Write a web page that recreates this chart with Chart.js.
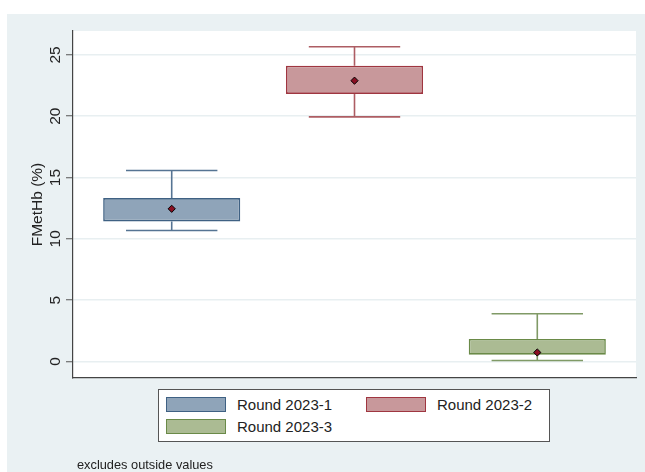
<!DOCTYPE html>
<html>
<head>
<meta charset="utf-8">
<script src="https://cdn.jsdelivr.net/npm/chart.js@4.4.1/dist/chart.umd.min.js"></script>
<style>
  html, body { margin: 0; padding: 0; background: #fff; }
  #wrap { position: relative; width: 645px; height: 472px; font-family: 'Liberation Sans', Arial, sans-serif; }
  #chart { position: absolute; left: 0; top: 0; }
  .legend { position: absolute; left: 158px; top: 389px; width: 390px; height: 51px; border: 1px solid #555; background: #fff; }
  .item { position: absolute; height: 18px; }
  .sw { position: absolute; left: 0; top: 0; width: 58px; height: 13px; border: 1.5px solid; }
  .lab { position: absolute; left: 71px; top: -1px; font-size: 15px; color: #222; white-space: nowrap; line-height: 18px; }
  .note { position: absolute; left: 77px; top: 457px; font-size: 12.8px; color: #222; line-height: 16px; }
</style>
</head>
<body>
<div id="wrap">
  <canvas id="chart" width="645" height="472"></canvas>
  <div class="legend" id="legend"></div>
  <div class="note">excludes outside values</div>
</div>
<script>
// data
const categories = ['Round 2023-1', 'Round 2023-2', 'Round 2023-3'];
const lowerWhisker = [10.68, 19.95, 0.08];
const q1 = [11.42, 21.82, 0.55];
const median = [12.45, 22.9, 0.73];
const q3 = [13.32, 24.12, 1.83];
const upperWhisker = [15.57, 25.67, 3.89];
const yTicks = [0, 5, 10, 15, 20, 25];
const xPos = [1, 2, 3];

// styling
const fills = ['#8fa4b9', '#c8989b', '#abbb93'];
const borders = ['#3f6183', '#9f3640', '#6a8a48'];
const whiskerColors = ['#557493', '#ad5d63', '#809a66'];
const capHalf = 0.25;

// outer panel + white plot region
const background = {
  id: 'background',
  beforeDraw(chart) {
    const { ctx, chartArea: a } = chart;
    ctx.save();
    ctx.fillStyle = '#eaf1f3';
    ctx.fillRect(7, 14, 645 - 7, 472 - 14);
    ctx.fillStyle = '#ffffff';
    ctx.fillRect(a.left, a.top, a.right - a.left, a.bottom - a.top);
    ctx.restore();
  }
};

// whiskers and caps, drawn through the scales
const whiskers = {
  id: 'whiskers',
  beforeDatasetsDraw(chart) {
    const { ctx, scales: { x, y } } = chart;
    categories.forEach((c, i) => {
      const xc = x.getPixelForValue(xPos[i]);
      const xl = x.getPixelForValue(xPos[i] - capHalf);
      const xr = x.getPixelForValue(xPos[i] + capHalf);
      const yHi = y.getPixelForValue(upperWhisker[i]);
      const yLo = y.getPixelForValue(lowerWhisker[i]);
      ctx.save();
      ctx.strokeStyle = whiskerColors[i];
      ctx.lineWidth = 1.6;
      ctx.beginPath();
      ctx.moveTo(xc, y.getPixelForValue(q3[i]));
      ctx.lineTo(xc, yHi);
      ctx.moveTo(xc, y.getPixelForValue(q1[i]));
      ctx.lineTo(xc, yLo);
      ctx.moveTo(xl, yHi);
      ctx.lineTo(xr, yHi);
      ctx.moveTo(xl, yLo);
      ctx.lineTo(xr, yLo);
      ctx.stroke();
      ctx.restore();
    });
  }
};

const datasets = categories.map((c, i) => ({
  type: 'bar',
  label: c,
  data: [{ x: xPos[i], y: [q1[i], q3[i]] }],
  backgroundColor: fills[i],
  borderColor: borders[i],
  borderWidth: 1.6,
  borderSkipped: false,
  grouped: false,
  barPercentage: 0.75,
  categoryPercentage: 1,
  order: 1
}));

datasets.push({
  type: 'scatter',
  label: 'median',
  data: median.map((m, i) => ({ x: xPos[i], y: m })),
  pointStyle: 'rectRot',
  radius: 3.6,
  backgroundColor: '#8b0f22',
  borderColor: '#000',
  borderWidth: 1,
  order: 0
});

const fontFam = "'Liberation Sans', Arial, sans-serif";

new Chart(document.getElementById('chart'), {
  type: 'bar',
  data: { datasets },
  options: {
    responsive: false,
    devicePixelRatio: 1,
    animation: false,
    layout: { padding: { left: 7, top: 31, right: 9, bottom: 94 } },
    plugins: { legend: { display: false }, tooltip: { enabled: false } },
    scales: {
      x: {
        type: 'linear',
        offset: false,
        min: 0.46,
        max: 3.54,
        afterBuildTicks(s) { s.ticks = xPos.map(v => ({ value: v })); },
        ticks: { display: false },
        grid: { display: false },
        border: { display: true, color: '#444', width: 1.2 },
        afterFit(s) { s.height = 0; }
      },
      y: {
        type: 'linear',
        min: -1.35,
        max: 26.95,
        afterBuildTicks(s) { s.ticks = yTicks.map(v => ({ value: v })); },
        afterFit(s) { s.width = 66; },
        ticks: {
          minRotation: 90,
          maxRotation: 90,
          crossAlign: 'center',
          padding: 2,
          color: '#222',
          font: { family: fontFam, size: 15.5 }
        },
        grid: {
          color: '#e8eff1',
          lineWidth: 1.5,
          tickLength: 7,
          tickColor: '#555',
          tickWidth: 1
        },
        border: { display: true, color: '#444', width: 1.2 },
        title: {
          display: true,
          text: 'FMetHb (%)',
          color: '#222',
          padding: { top: 21.5, bottom: 0 },
          font: { family: fontFam, size: 15.5 }
        }
      }
    }
  },
  plugins: [background, whiskers]
});

// legend built from the same categories
const legend = document.getElementById('legend');
const spots = [[7, 7], [207, 7], [7, 29]];
categories.forEach((c, i) => {
  const it = document.createElement('div');
  it.className = 'item';
  it.style.left = spots[i][0] + 'px';
  it.style.top = spots[i][1] + 'px';
  const sw = document.createElement('div');
  sw.className = 'sw';
  sw.style.background = fills[i];
  sw.style.borderColor = borders[i];
  const lab = document.createElement('div');
  lab.className = 'lab';
  lab.textContent = c;
  it.appendChild(sw);
  it.appendChild(lab);
  legend.appendChild(it);
});
</script>
</body>
</html>
